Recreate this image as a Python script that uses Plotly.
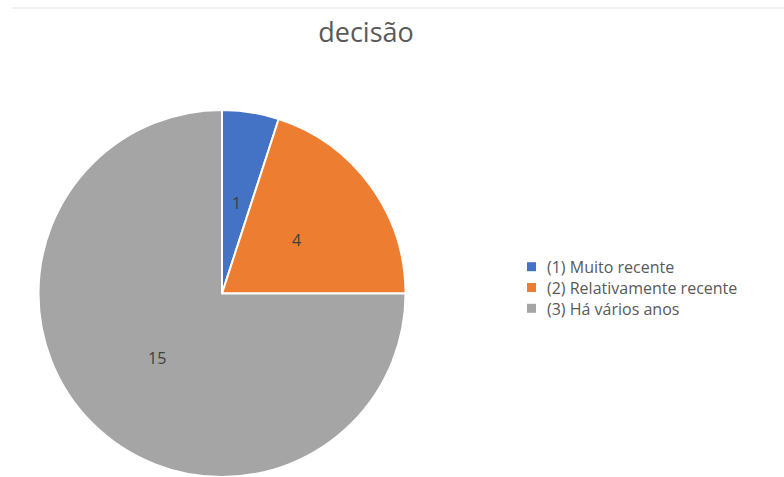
import math
import plotly.graph_objects as go

# Survey answers: how long ago the decision was taken
categories = ["(1) Muito recente", "(2) Relativamente recente", "(3) Há vários anos"]
counts = [1, 4, 15]
colors = ["#4472C4", "#ED7D31", "#A5A5A5"]

W, H = 784, 477
TOP = 110                 # room above the pie for the title
PLOT_H = H - TOP          # pixel height of the plotting area
CX = 222                  # pie centre, px from the left
R = PLOT_H / 2            # pie radius (fills the plotting height)
CY = TOP + R              # pie centre, px from the top

TEXT = "#595959"
FONT = "Open Sans"


def px_to_paper(x, y):
    return x / W, (H - y) / PLOT_H


fig = go.Figure(
    go.Pie(
        labels=categories,
        values=counts,
        sort=False,
        direction="clockwise",
        rotation=0,
        marker=dict(colors=colors, line=dict(color="white", width=2)),
        textinfo="none",
        domain=dict(x=[(CX - R) / W, (CX + R) / W], y=[0, 1]),
        hoverinfo="label+value",
        showlegend=False,
    )
)

# value labels, placed halfway out along each slice's bisector
total = sum(counts)
start = 0.0
for v in counts:
    mid = (start + v / 2) / total * 2 * math.pi
    start += v
    lx = CX + 0.5 * R * math.sin(mid)
    ly = CY - 0.5 * R * math.cos(mid)
    ax, ay = px_to_paper(lx, ly)
    fig.add_annotation(
        x=ax, y=ay, xref="paper", yref="paper", text=str(v), showarrow=False,
        xanchor="center", yanchor="middle",
        font=dict(family=FONT, size=16, color="#404040"),
    )

# compact legend: one multi-line text block with a colour square per line
LEG_SIZE = 16
LINE = 1.3 * LEG_SIZE          # plotly's line spacing for multi-line text
LEG_MID_Y = 287.5              # vertical centre of the block, px
LEG_X, SQ = 527, 9
n = len(categories)
for i, col in enumerate(colors):
    yc = LEG_MID_Y + (i - (n - 1) / 2) * LINE
    x0, y0 = px_to_paper(LEG_X, yc + SQ / 2)
    x1, y1 = px_to_paper(LEG_X + SQ, yc - SQ / 2)
    fig.add_shape(type="rect", xref="paper", yref="paper",
                  x0=x0, x1=x1, y0=y0, y1=y1,
                  fillcolor=col, line=dict(width=0))
tx, ty = px_to_paper(LEG_X + SQ + 10, LEG_MID_Y)
fig.add_annotation(
    x=tx, y=ty, xref="paper", yref="paper", text="<br>".join(categories),
    showarrow=False, xanchor="left", yanchor="middle", align="left",
    borderpad=0, font=dict(family=FONT, size=LEG_SIZE, color=TEXT),
)

# thin separator line across the top of the chart area
_, sy = px_to_paper(0, 8)
fig.add_shape(
    type="line", xref="paper", yref="paper",
    x0=12 / W, x1=1, y0=sy, y1=sy,
    line=dict(color="#E3E3E3", width=1),
)

fig.update_layout(
    width=W,
    height=H,
    margin=dict(l=0, r=0, t=TOP, b=0),
    paper_bgcolor="white",
    plot_bgcolor="white",
    title=dict(
        text="decisão",
        x=366 / W, xanchor="center",
        y=1 - 33 / H, yanchor="middle", yref="container",
        font=dict(family=FONT, size=27, color=TEXT),
    ),
)

fig.write_html("out.html")
